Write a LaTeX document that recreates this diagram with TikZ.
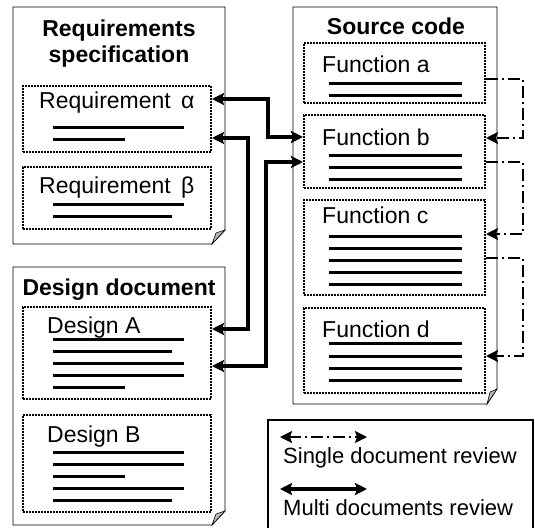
\documentclass[tikz,border=0pt]{standalone}
\usepackage{fontspec}
\setmainfont{Liberation Sans}
\usetikzlibrary{arrows.meta,positioning}

\begin{document}
\begin{tikzpicture}[x=1pt, y=-1pt, >={Stealth[length=12pt,width=12pt,inset=2pt]},
    font=\fontsize{23}{26}\selectfont,
    docpage/.style={draw, line width=0.8pt},
    fold/.style={draw, line width=0.6pt, fill=gray!55},
    part/.style={draw, line width=2pt, dash pattern=on 2pt off 1pt, minimum width=188pt, inner sep=0pt},
    fpart/.style={part, minimum width=181pt},
    lbl/.style={anchor=base west, inner sep=0pt},
    ttl/.style={anchor=base, inner sep=0pt, align=center, font=\fontsize{23}{26}\selectfont\bfseries},
    txtline/.style={line width=3pt},
    multi/.style={<->, line width=4.5pt},
    single/.style={->, line width=2pt, dash pattern=on 12pt off 4pt on 2pt off 4pt}]

  \useasboundingbox (0,0) rectangle (535,527);

  % documents
  \draw[docpage] (13,7) -- (225,7) -- (225,230) -- (212,244) -- (13,244) -- cycle;
  \draw[fold] (212,244) -- (225,230) -- (216,233) -- cycle;
  \draw[docpage] (13,267) -- (225,267) -- (225,511) -- (212,525) -- (13,525) -- cycle;
  \draw[fold] (212,525) -- (225,511) -- (216,514) -- cycle;
  \draw[docpage] (293,7) -- (497,7) -- (497,389) -- (487,404) -- (293,404) -- cycle;
  \draw[fold] (487,404) -- (497,389) -- (490,392) -- cycle;

  \node[ttl] (reqttl) at (119,37) {Requirements};
  \node[ttl] (specttl) at (119,63) {specification};
  \node[ttl] (desttl) at (119,295) {Design document};
  \node[ttl] (srcttl) at (396,35) {Source code};

  % parts
  \node[part, minimum height=66pt] (reqa) at (117,119) {};
  \node[part, minimum height=62pt] (reqb) at (117,198) {};
  \node[part, minimum height=92pt] (desa) at (117,353) {};
  \node[part, minimum height=97pt] (desb) at (117,463.5) {};
  \node[fpart, minimum height=60pt] (funa) at (394.5,73) {};
  \node[fpart, minimum height=73pt] (funb) at (394.5,151.5) {};
  \node[fpart, minimum height=95pt] (func) at (394.5,247.5) {};
  \node[fpart, minimum height=85pt] (fund) at (394.5,350.5) {};

  \node[lbl] (reqatxt) at (39,108) {Requirement \,α};
  \node[lbl] (reqbtxt) at (39,193) {Requirement \,β};
  \node[lbl] (desatxt) at (47,333) {Design A};
  \node[lbl] (desbtxt) at (47,442) {Design B};
  \node[lbl] (funatxt) at (322,73) {Function a};
  \node[lbl] (funbtxt) at (322,145) {Function b};
  \node[lbl] (functxt) at (322,223) {Function c};
  \node[lbl] (fundtxt) at (322,337) {Function d};

  % text lines
  \foreach \y/\l in {127/131, 139/72, 204/131, 216/119,
                     339/131, 351/119, 363/131, 375/131, 387/72,
                     452/131, 464/131, 476/72, 488/131, 500/119}
    \draw[txtline] (53,\y) -- ++(\l,0);
  \foreach \y in {83, 95, 155, 167, 179, 236, 248, 260, 272, 284, 343, 356, 368, 380}
    \draw[txtline] (329,\y) -- ++(133,0);

  % multi documents review
  \draw[multi] ([yshift=-14pt]reqa.north east) -- ++(56,0) |- ([yshift=-23pt]funb.north west);
  \draw[multi] ([yshift=-53pt]reqa.north east) -- ++(36,0) |- ([yshift=-23pt]desa.north east);
  \draw[multi] ([yshift=-48pt]funb.north west) -- ++(-37,0) |- ([yshift=-60pt]desa.north east);

  % single document review
  \draw[single] ([yshift=-37pt]funa.north east) -- ++(37,0) |- ([yshift=-24pt]funb.north east);
  \draw[single] ([yshift=-48pt]funb.north east) -- ++(37,0) |- ([yshift=-35pt]func.north east);
  \draw[single] ([yshift=-59pt]func.north east) -- ++(37,0) |- ([yshift=-49pt]fund.north east);

  % legend
  \draw[line width=2pt] (268,528) -- (268,420) -- (533,420) -- (533,528);
  \coordinate (sgla) at (280,437);
  \coordinate (sglb) at (367,437);
  \coordinate (mlta) at (280,489);
  \coordinate (mltb) at (367,489);
  \draw[single, <->] (sgla) -- (sglb);
  \draw[multi] (mlta) -- (mltb);
  \node[lbl, font=\fontsize{22}{24}\selectfont] (sgltxt) at (283,463) {Single document review};
  \node[lbl, font=\fontsize{22}{24}\selectfont] (mlttxt) at (283,515) {Multi documents review};
\end{tikzpicture}
\end{document}
